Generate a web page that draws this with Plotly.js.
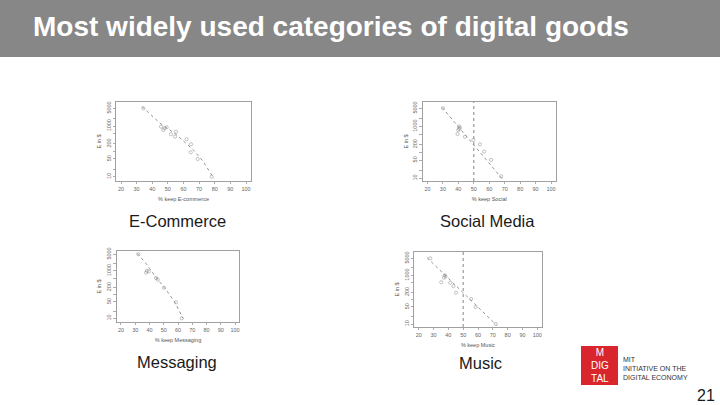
<!DOCTYPE html>
<html><head><meta charset="utf-8">
<script src="https://cdn.plot.ly/plotly-3.0.1.min.js"></script>
<style>html,body{margin:0;padding:0;background:#fff;}#chart{width:720px;height:405px;}</style>
</head><body><div id="chart"></div>
<script>
// ---------- data ----------
const panelNames = ['E-Commerce', 'Social Media', 'Messaging', 'Music'];
const xAxisLabels = ['% keep E-commerce', '% keep Social', '% keep Messaging', '% keep Music'];
const yAxisLabel = 'E in $';

const ecomKeep  = [34.3, 45.6, 47.7, 49.2, 47.1, 55.2, 54.6, 52.0, 62.0, 64.8, 64.6, 69.1, 78.0];
const ecomValue = [5000, 946, 812, 890, 700, 600, 383, 474, 300, 190, 91, 50, 10];
const ecomFitKeep  = [33.5, 45, 55.6, 66.3, 72.7, 79.5];
const ecomFitValue = [5800, 1290, 450, 113, 39, 8.5];

const socialKeep  = [30.1, 40.4, 41.0, 40.6, 39.9, 39.5, 44.3, 49.7, 54.0, 56.7, 61.2, 67.7];
const socialValue = [5000, 1000, 900, 800, 725, 510, 400, 300, 204, 107, 51, 12];
const socialFitKeep  = [29.5, 68.5];
const socialFitValue = [5400, 9.5];

const msgKeep  = [32.2, 38.2, 37.6, 39.5, 44.6, 45.8, 50.2, 58.6, 62.6];
const msgValue = [5000, 1000, 850, 950, 500, 430, 195, 47, 10];
const msgFitKeep  = [31.5, 38, 45, 52, 58, 63.5];
const msgFitValue = [5400, 1900, 490, 150, 45, 10];

const musicKeep  = [27.8, 37.6, 37.0, 38.0, 35.2, 41.2, 43.4, 45.2, 55.3, 58.4, 72.0];
const musicValue = [5000, 1000, 800, 900, 520, 500, 360, 195, 107, 50, 10];
const musicFitKeep  = [25.5, 72.5];
const musicFitValue = [5400, 9];

const thresholdKeep = 50;   // dotted reference line in Social Media and Music

const xTickVals = [20, 30, 40, 50, 60, 70, 80, 90, 100];
const yTickVals = [10, 20, 50, 100, 200, 500, 1000, 2000, 5000];
const yTickText = ['10', '', '50', '', '200', '', '1000', '', '5000'];

const titleText = 'Most widely used categories of digital goods';
const pageNumber = '21';
const logoMark = 'M<br>DIG<br>TAL';
const logoLines = 'MIT<br>INITIATIVE ON THE<br>DIGITAL ECONOMY';

// ---------- layout helpers ----------
const W = 720, H = 405;
const px = v => v / W;
const py = v => 1 - v / H;
const FONT = 'Liberation Sans, Arial, sans-serif';

// panel boxes in pixels [x0, x1, y0(top), y1(bottom)] and log10 y ranges
const boxes = [
  [116, 251, 102, 181],
  [422.5, 556, 102, 181],
  [116.4, 239.6, 251, 322],
  [414, 542, 252, 327]
];
const yRanges = [[0.83, 3.948], [0.896, 3.942], [0.844, 3.838], [0.877, 3.958]];
const xRange = [16.8, 103.2];

const series = [
  [ecomKeep, ecomValue, ecomFitKeep, ecomFitValue],
  [socialKeep, socialValue, socialFitKeep, socialFitValue],
  [msgKeep, msgValue, msgFitKeep, msgFitValue],
  [musicKeep, musicValue, musicFitKeep, musicFitValue]
];

const axisColor = '#777';
const tickFont = {family: FONT, size: 5.5, color: '#666'};

const traces = [];
const layout = {
  width: W, height: H,
  margin: {l: 0, r: 0, t: 0, b: 0},
  paper_bgcolor: '#ffffff', plot_bgcolor: '#ffffff',
  showlegend: false,
  shapes: [], annotations: []
};

series.forEach((s, i) => {
  const n = i === 0 ? '' : String(i + 1);
  const xa = 'x' + n, ya = 'y' + n;
  traces.push({
    x: s[2], y: s[3], xaxis: xa, yaxis: ya, type: 'scatter', mode: 'lines',
    line: {color: '#666', width: 0.7, dash: 'dot'}, hoverinfo: 'skip'
  });
  traces.push({
    x: s[0], y: s[1], xaxis: xa, yaxis: ya, type: 'scatter', mode: 'markers',
    marker: {symbol: 'circle-open', size: 3.2, color: '#888', line: {width: 0.5, color: '#888'}}
  });
  const b = boxes[i];
  layout['xaxis' + n] = {
    domain: [px(b[0]), px(b[1])], anchor: ya, range: xRange,
    tickvals: xTickVals, ticks: 'outside', ticklen: 2.5, tickwidth: 0.6, tickcolor: axisColor,
    showline: true, mirror: true, linecolor: axisColor, linewidth: 0.7,
    showgrid: false, zeroline: false, tickfont: tickFont, automargin: false,
    title: {text: xAxisLabels[i], font: {family: FONT, size: 5.5, color: '#555'}, standoff: 6}
  };
  layout['yaxis' + n] = {
    domain: [py(b[3]), py(b[2])], anchor: xa, type: 'log', range: yRanges[i],
    tickvals: yTickVals, ticktext: yTickText, tickangle: -90,
    ticks: 'outside', ticklen: 2.5, tickwidth: 0.6, tickcolor: axisColor,
    showline: true, mirror: true, linecolor: axisColor, linewidth: 0.7,
    showgrid: false, zeroline: false, tickfont: tickFont, automargin: false,
    title: {text: yAxisLabel, font: {family: FONT, size: 5.5, color: '#555'}, standoff: 3}
  };
});

// dotted thresholds for Social Media (2) and Music (4)
[2, 4].forEach(k => {
  layout.shapes.push({
    type: 'line', xref: 'x' + k, yref: 'y' + k + ' domain',
    x0: thresholdKeep, x1: thresholdKeep, y0: 0, y1: 1,
    line: {color: '#666', width: 0.8, dash: 'dot'}
  });
});

// title bar
layout.shapes.push({type: 'rect', xref: 'paper', yref: 'paper', x0: 0, x1: 1, y0: py(57), y1: 1,
  fillcolor: '#878787', line: {width: 0}, layer: 'below'});
layout.annotations.push({xref: 'paper', yref: 'paper', x: px(31), y: py(27), xanchor: 'left', yanchor: 'middle',
  text: titleText, showarrow: false,
  font: {family: FONT, size: 28, color: '#ffffff', weight: 'bold'}});

// captions
const captionPos = [[177, 221], [487, 221], [177, 362], [481, 363]];
panelNames.forEach((t, i) => {
  layout.annotations.push({xref: 'paper', yref: 'paper', x: px(captionPos[i][0]), y: py(captionPos[i][1]),
    xanchor: 'center', yanchor: 'middle', text: t, showarrow: false,
    font: {family: FONT, size: 16.5, color: '#1a1a1a'}});
});

// logo
layout.shapes.push({type: 'rect', xref: 'paper', yref: 'paper', x0: px(581), x1: px(618), y0: py(385), y1: py(346),
  fillcolor: '#d8262c', line: {width: 0}});
layout.annotations.push({xref: 'paper', yref: 'paper', x: px(599.5), y: py(365.5), xanchor: 'center', yanchor: 'middle',
  text: logoMark, showarrow: false, align: 'center',
  font: {family: FONT, size: 10, color: '#ffffff'}});
layout.annotations.push({xref: 'paper', yref: 'paper', x: px(621), y: py(368), xanchor: 'left', yanchor: 'middle',
  text: logoLines, showarrow: false, align: 'left',
  font: {family: FONT, size: 7, color: '#333'}});

// page number
layout.annotations.push({xref: 'paper', yref: 'paper', x: px(717), y: py(395), xanchor: 'right', yanchor: 'middle',
  text: pageNumber, showarrow: false, font: {family: FONT, size: 16, color: '#1a1a1a'}});

Plotly.newPlot('chart', traces, layout, {staticPlot: true, displayModeBar: false});
</script>
</body></html>
